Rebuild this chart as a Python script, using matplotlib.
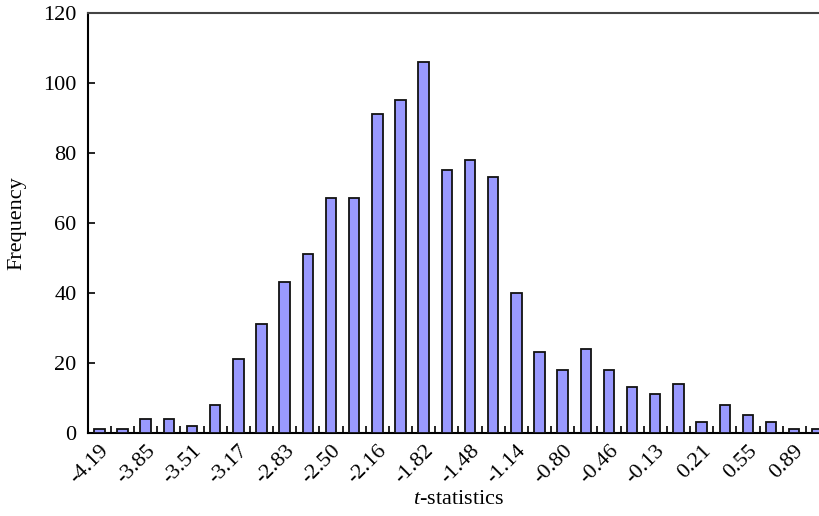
import numpy as np
import matplotlib
matplotlib.use("Agg")
import matplotlib.pyplot as plt

# frecuencias de cada clase del histograma
freq = [1, 1, 4, 4, 2, 8, 21, 31, 43, 51, 67, 67, 91, 95, 106, 75,
        78, 73, 40, 23, 18, 24, 18, 13, 11, 14, 3, 8, 5, 3, 1, 1]
# etiquetas (una cada dos clases)
tick_labels = ["-4.19", "-3.85", "-3.51", "-3.17", "-2.83", "-2.50", "-2.16", "-1.82",
               "-1.48", "-1.14", "-0.80", "-0.46", "-0.13", "0.21", "0.55", "0.89"]

plt.rcParams['font.family'] = ['Liberation Serif', 'DejaVu Serif']
plt.rcParams['font.size'] = 16
plt.rcParams['mathtext.fontset'] = 'custom'
plt.rcParams['mathtext.rm'] = 'Liberation Serif'
plt.rcParams['mathtext.it'] = 'Liberation Serif:italic'

fig = plt.figure(figsize=(8.2, 5.16), dpi=100)
ax = fig.add_axes([0.107, 0.161, 0.904, 0.814])

x = np.arange(len(freq))
ax.bar(x, freq, width=0.45, color='#9999ff', edgecolor='#111111', linewidth=1.3, zorder=3)

ax.set_xlim(-0.5, len(freq) - 0.5)
ax.set_ylim(0, 120)
ax.set_yticks(np.arange(0, 121, 20))

ax.set_xticks(x[::2])
ax.set_xticklabels(tick_labels, rotation=45, ha='right', va='top', rotation_mode='anchor')
ax.set_xticks(np.arange(0.5, len(freq) - 0.5, 1), minor=True)
ax.tick_params(axis='x', which='major', length=0, pad=6)
ax.tick_params(axis='x', which='minor', direction='in', length=5, width=1.2)
ax.tick_params(axis='y', direction='in', length=5, width=1.2, pad=8)

ax.spines['right'].set_visible(False)
ax.spines['top'].set_color('#444444')
ax.spines['top'].set_linewidth(1.5)
ax.spines['left'].set_linewidth(1.5)
ax.spines['bottom'].set_linewidth(1.5)

ax.set_xlabel(r"$\it{t}$-statistics", labelpad=2)
ax.set_ylabel("Frequency", labelpad=12)

fig.savefig("out.png", dpi=100)
